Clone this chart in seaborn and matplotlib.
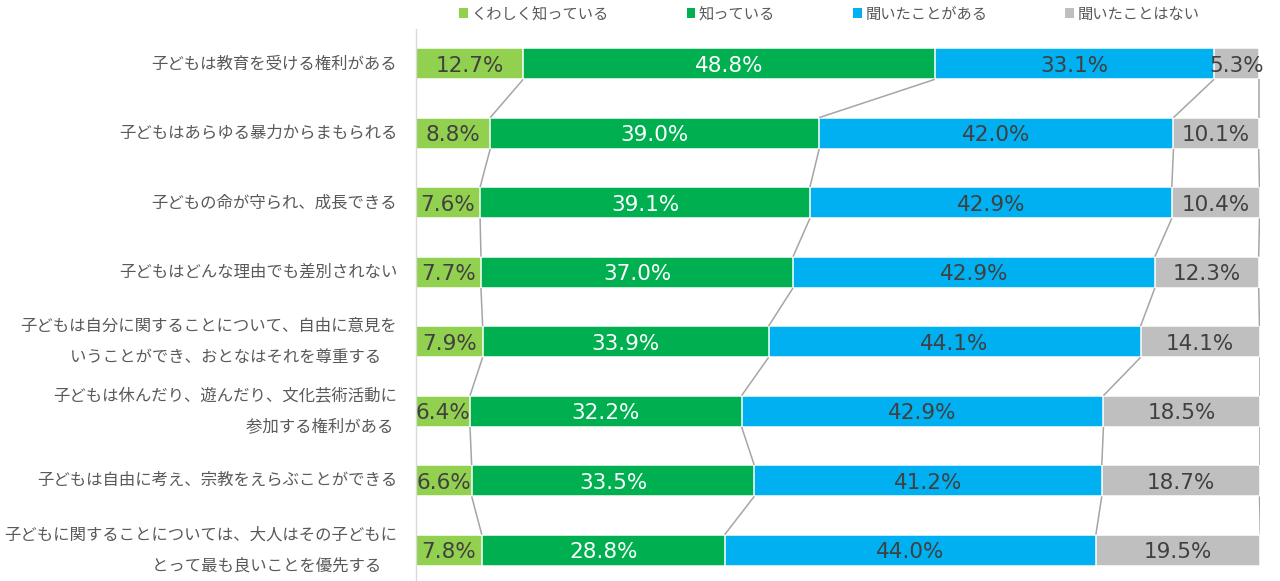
import numpy as np
import matplotlib
matplotlib.use("Agg")
import matplotlib.pyplot as plt
from matplotlib.patches import Patch
import seaborn as sns

# Survey items (y axis), two-line items keep their trailing spacing
categories = [
    "子どもは教育を受ける権利がある",
    "子どもはあらゆる暴力からまもられる",
    "子どもの命が守られ、成長できる",
    "子どもはどんな理由でも差別されない",
    "子どもは自分に関することについて、自由に意見を\nいうことができ、おとなはそれを尊重する　",
    "子どもは休んだり、遊んだり、文化芸術活動に\n参加する権利がある ",
    "子どもは自由に考え、宗教をえらぶことができる",
    "子どもに関することについては、大人はその子どもに\nとって最も良いことを優先する　",
]
series = ["くわしく知っている", "知っている", "聞いたことがある", "聞いたことはない"]

well_known = [12.7, 8.8, 7.6, 7.7, 7.9, 6.4, 6.6, 7.8]
known = [48.8, 39.0, 39.1, 37.0, 33.9, 32.2, 33.5, 28.8]
heard = [33.1, 42.0, 42.9, 42.9, 44.1, 42.9, 41.2, 44.0]
never = [5.3, 10.1, 10.4, 12.3, 14.1, 18.5, 18.7, 19.5]

colors = ["#92D050", "#00B050", "#00B0F0", "#BFBFBF"]
label_colors = ["#404040", "#FFFFFF", "#404040", "#404040"]

sns.set_style("white")
plt.rcParams["font.family"] = ["Noto Sans CJK JP", "DejaVu Sans"]

values = np.array([well_known, known, heard, never])
cum = np.cumsum(values, axis=0)
bar_w = 0.45

fig = plt.figure(figsize=(12.8, 5.81), dpi=100)
ax = fig.add_axes([416 / 1280, -4 / 581, 843.5 / 1280, 556 / 581])

# Stacked bars: draw cumulative totals from the longest down
for i in reversed(range(len(series))):
    sns.barplot(x=cum[i], y=categories, orient="y", color=colors[i],
                saturation=1, width=bar_w, edgecolor="white", linewidth=1.1,
                errorbar=None, ax=ax)

# Series lines joining segment boundaries of neighbouring bars
for i in range(len(series)):
    for j in range(len(categories) - 1):
        ax.plot([cum[i][j], cum[i][j + 1]],
                [j + bar_w / 2, j + 1 - bar_w / 2],
                color="#A5A5A5", linewidth=1.1, zorder=1, solid_capstyle="butt")

# Value labels
for i in range(len(series)):
    for j in range(len(categories)):
        v = values[i][j]
        ax.text(cum[i][j] - v / 2, j, f"{v:.1f}%", ha="center", va="center_baseline",
                color=label_colors[i], fontsize=15.5, family="DejaVu Sans", zorder=5)

ax.set_xlim(0, 100)
ax.set_ylim(len(categories) - 0.5, -0.5)
ax.set_xticks([])
ax.set_xlabel("")
ax.set_ylabel("")
for s in ["top", "right", "bottom"]:
    ax.spines[s].set_visible(False)
ax.spines["left"].set_color("#D9D9D9")
ax.spines["left"].set_linewidth(1.0)

ax.set_yticks(range(len(categories)))
ax.set_yticklabels(categories, fontsize=11.8, color="#595959", linespacing=2.1)
for lab in ax.get_yticklabels():
    lab.set_verticalalignment("center")
ax.set_yticks(np.arange(-0.5, len(categories), 1), minor=True)
ax.tick_params(axis="y", which="major", length=0, pad=13.5)
ax.tick_params(axis="y", which="minor", length=4.5, width=1.0, color="#D9D9D9")

handles = [Patch(facecolor=c, edgecolor="none") for c in colors]
fig.legend(handles, series, loc="center", bbox_to_anchor=(0.648, 1 - 14 / 581),
           ncol=4, frameon=False, fontsize=11, labelcolor="#595959",
           handlelength=0.55, handleheight=0.55, handletextpad=0.25,
           columnspacing=5.1, borderpad=0)

fig.savefig("out.png", dpi=100)
